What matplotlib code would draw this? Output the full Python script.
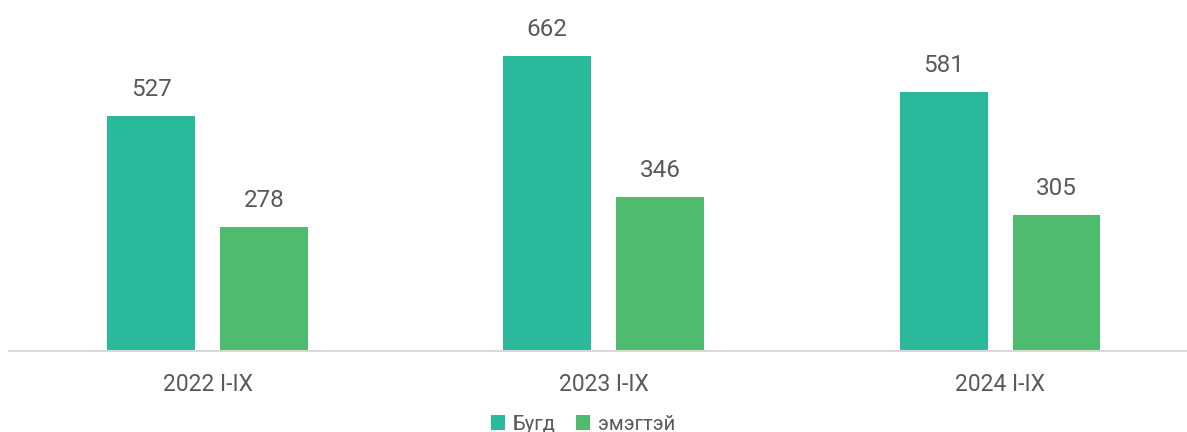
import matplotlib
matplotlib.use("Agg")
import matplotlib.pyplot as plt
import numpy as np

plt.rcParams['font.family'] = ['Roboto', 'DejaVu Sans']

categories = ["2022 I-IX", "2023 I-IX", "2024 I-IX"]
bugd = [527, 662, 581]
emegtei = [278, 346, 305]
series_names = ["Бугд", "эмэгтэй"]

c_bugd = "#2BB99B"
c_em = "#4FBB6F"
text_c = "#595959"

fig = plt.figure(figsize=(11.87, 4.32), dpi=100)
ax = fig.add_axes([9.4 / 1187, 81 / 432, 1188.75 / 1187, 351 / 432])

x = np.arange(len(categories))
w = 0.222
off = 0.1425
b1 = ax.bar(x - off, bugd, w, color=c_bugd, label=series_names[0])
b2 = ax.bar(x + off, emegtei, w, color=c_em, label=series_names[1])

for bars in (b1, b2):
    for r in bars:
        ax.annotate(f"{int(r.get_height())}", (r.get_x() + r.get_width() / 2, r.get_height()),
                    xytext=(0, 11), textcoords="offset points", ha="center", va="bottom",
                    fontsize=17.5, color=text_c)

ax.set_xlim(-0.5, 2.5)
ax.set_ylim(0, 788)
ax.set_xticks(x)
ax.set_xticklabels(categories, fontsize=16.5, color=text_c)
ax.tick_params(axis="x", length=0, pad=16)
ax.set_yticks([])
for s in ["top", "right", "left"]:
    ax.spines[s].set_visible(False)
ax.spines["bottom"].set_color("#D9D9D9")
ax.spines["bottom"].set_linewidth(1.5)

leg = fig.legend(handles=[b1, b2], labels=series_names, loc="center", bbox_to_anchor=(583 / 1187, 1 - 424 / 432),
                 ncol=2, frameon=False, fontsize=14.5, handlelength=0.7, handleheight=0.7,
                 handletextpad=0.4, columnspacing=1.0)
for t in leg.get_texts():
    t.set_color(text_c)

fig.savefig("out.png", dpi=100)
